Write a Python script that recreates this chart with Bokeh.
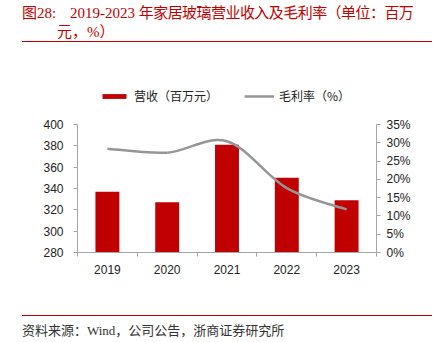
from bokeh.plotting import figure
from bokeh.models import (Range1d, LinearAxis, FixedTicker, Legend, LegendItem,
                          PrintfTickFormatter, Div)
from bokeh.layouts import column
from bokeh.embed import file_html
from bokeh.resources import INLINE

years = ["2019", "2020", "2021", "2022", "2023"]
revenue = [337, 327, 381, 350, 329]          # 营收（百万元）
gross_margin = [28.4, 27.3, 30.4, 17.6, 11.8]  # 毛利率（%）
left_ticks = [280, 300, 320, 340, 360, 380, 400]
right_ticks = [0, 5, 10, 15, 20, 25, 30, 35]

title_label = "图28:"
title_years = "2019-2023"
title_rest = "年家居玻璃营业收入及毛利率（单位：百万"
title_line2 = "元，%）"
source_text = "资料来源：Wind，公司公告，浙商证券研究所"

RED = "#c00000"
GRAY_AX = "#a6a6a6"
LINE_GRAY = "#969696"
CJK = "Noto Sans CJK SC"
SERIF = "Liberation Serif, Noto Sans CJK SC"

xs = list(range(len(years)))

# axis area is 128 px tall; frame extends 42 px higher to hold the legend
AXIS_PX = 128
LEGEND_PX = 42
pad = LEGEND_PX / AXIS_PX
l0, l1 = left_ticks[0], left_ticks[-1]
r0, r1 = right_ticks[0], right_ticks[-1]

p = figure(width=434, height=268, output_backend="svg", toolbar_location=None,
           x_range=Range1d(-0.5, len(years) - 0.5),
           y_range=Range1d(l0, l1 + (l1 - l0) * pad),
           min_border_left=77, min_border_right=58, min_border_top=38,
           min_border_bottom=60, outline_line_color=None)
p.xgrid.visible = False
p.ygrid.visible = False
p.extra_y_ranges = {"pct": Range1d(r0, r1 + (r1 - r0) * pad)}

bars = p.vbar(x=xs, top=revenue, bottom=l0, width=0.4,
              fill_color=RED, line_color=None)

# smooth (Catmull-Rom -> Bezier) curve through the margin points
n = len(xs)
x0, y0, x1, y1, cx0, cy0, cx1, cy1 = [], [], [], [], [], [], [], []
for i in range(n - 1):
    im1 = max(i - 1, 0)
    ip2 = min(i + 2, n - 1)
    x0.append(xs[i]); y0.append(gross_margin[i])
    x1.append(xs[i + 1]); y1.append(gross_margin[i + 1])
    cx0.append(xs[i] + (xs[i + 1] - xs[im1]) / 6)
    cy0.append(gross_margin[i] + (gross_margin[i + 1] - gross_margin[im1]) / 6)
    cx1.append(xs[i + 1] - (xs[ip2] - xs[i]) / 6)
    cy1.append(gross_margin[i + 1] - (gross_margin[ip2] - gross_margin[i]) / 6)
curve = p.bezier(x0=x0, y0=y0, x1=x1, y1=y1, cx0=cx0, cy0=cy0, cx1=cx1, cy1=cy1,
                 line_color=LINE_GRAY, line_width=2.5, y_range_name="pct")

# x axis
xa = p.xaxis[0]
xa.ticker = FixedTicker(ticks=xs, minor_ticks=[x - 0.5 for x in xs] + [xs[-1] + 0.5])
xa.major_label_overrides = {x: y for x, y in zip(xs, years)}
xa.major_tick_out = 0
xa.major_tick_in = 0
xa.minor_tick_out = 4
xa.minor_tick_in = 0
xa.minor_tick_line_color = GRAY_AX
xa.axis_line_color = GRAY_AX
xa.major_label_standoff = 8
xa.major_label_text_font = "Liberation Sans"
xa.major_label_text_font_size = "12px"
xa.major_label_text_color = "#222222"

# left axis
ya = p.yaxis[0]
ya.ticker = FixedTicker(ticks=left_ticks)
ya.bounds = (l0, l1)
ya.axis_line_color = GRAY_AX
ya.major_tick_line_color = GRAY_AX
ya.major_tick_out = 4
ya.major_tick_in = 0
ya.minor_tick_line_color = None
ya.major_label_standoff = 10
ya.major_label_text_font = "Liberation Sans"
ya.major_label_text_font_size = "12px"
ya.major_label_text_color = "#222222"

# right axis
ra = LinearAxis(y_range_name="pct", ticker=FixedTicker(ticks=right_ticks),
                formatter=PrintfTickFormatter(format="%d%%"), bounds=(r0, r1))
ra.axis_line_color = GRAY_AX
ra.major_tick_line_color = GRAY_AX
ra.major_tick_out = 4
ra.major_tick_in = 0
ra.minor_tick_line_color = None
ra.major_label_standoff = 6
ra.major_label_text_font = "Liberation Sans"
ra.major_label_text_font_size = "12px"
ra.major_label_text_color = "#222222"
p.add_layout(ra, "right")

legend = Legend(items=[LegendItem(label="营收（百万元）", renderers=[bars]),
                       LegendItem(label="毛利率（%）", renderers=[curve])],
                orientation="horizontal", location=(22, 148),
                label_text_font=CJK, label_text_font_size="12px",
                label_text_color="#222222",
                glyph_width=30, glyph_height=6, spacing=26,
                label_standoff=5, border_line_color=None,
                background_fill_alpha=0, margin=0, padding=2)
p.add_layout(legend, "center")

title_div = Div(
    text=(f"<div style=\"position:relative;margin-left:22px;width:410px;height:42px;"
          f"border-bottom:1px solid {RED};color:{RED};font-family:{SERIF};"
          f"font-size:15px;line-height:18px;white-space:nowrap\">"
          f"<div style=\"position:absolute;top:4px;left:0\">{title_label}</div>"
          f"<div style=\"position:absolute;top:4px;left:48px\">{title_years} "
          f"<span style=\"letter-spacing:-0.55px\">{title_rest}</span></div>"
          f"<div style=\"position:absolute;top:23px;left:35px\">{title_line2}</div></div>"),
    width=434, height=44, margin=(0, 0, 0, 0))

footer_div = Div(
    text=(f"<div style=\"margin-left:22px;margin-top:3px;width:410px;"
          f"border-top:1px solid {RED};color:#333333;font-family:{SERIF};"
          f"font-size:13px;line-height:22px;padding-top:4px;white-space:nowrap\">"
          f"{source_text}</div>"),
    width=434, height=30, margin=(0, 0, 0, 0))

layout = column(title_div, p, footer_div, spacing=0)
open("out.html", "w").write(file_html(layout, INLINE))
